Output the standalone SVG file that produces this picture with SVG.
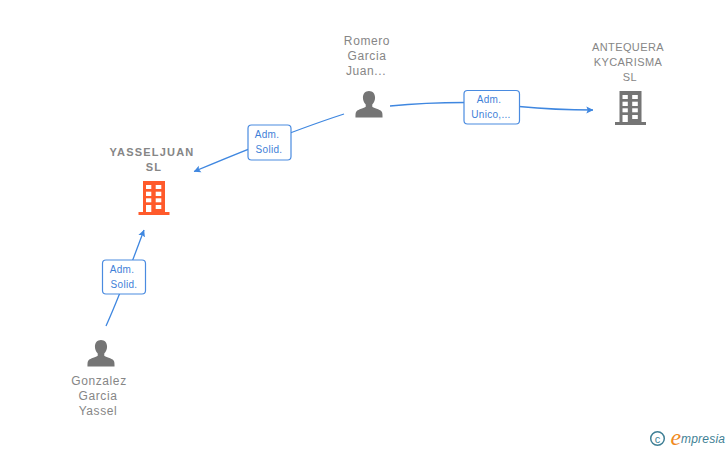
<svg xmlns="http://www.w3.org/2000/svg" width="728" height="450" viewBox="0 0 728 450">
<style>
.lbl{font-family:"Liberation Sans",Arial,sans-serif;font-size:12px;fill:#868686;text-anchor:middle;letter-spacing:.6px}
.cap{font-size:11px;letter-spacing:.4px}
.b{font-weight:bold;font-size:11px;letter-spacing:1.2px}
.edge{fill:none;stroke:#3f87e0;stroke-width:1.3;marker-end:url(#a)}
.line{fill:none;stroke:#3f87e0;stroke-width:1.3}
.box{fill:#fff;stroke:#4a8be0;stroke-width:1.2}
.bt{font-family:"Liberation Sans",Arial,sans-serif;font-size:10px;fill:#3f7fd8;text-anchor:middle;letter-spacing:.3px}
.g{fill:#757575}
.o{fill:#ff5a2b}
.w{fill:#fff}
</style>
<defs>
<marker id="a" viewBox="0 0 10 10" refX="9.500" refY="5" markerWidth="7" markerHeight="10" markerUnits="userSpaceOnUse" orient="auto"><path d="M0 0L10 5L0 10L2 5Z" fill="#3f87e0"/></marker>
<symbol id="person" viewBox="0 0 30 30" overflow="visible">
<path d="M15 1c4 0 6.500 3 6.500 7 0 3-1 5.500-3 7.500v2.500c1.500 1.500 8 2.500 10 5 1 1.500 1 3 1 6.500H.5c0-3.500 0-5 1-6.500 2-2.500 8.500-3.500 10-5v-2.500c-2-2-3-4.500-3-7.500 0-4 2.500-7 6.500-7z"/>
</symbol>
<g id="bld">
<path d="M-11 -17h22v31h4.500v3H-15.500v-3h4.500z"/>
<g class="w"><rect x="-8" y="-13" width="5.300" height="4"/><rect x="1.700" y="-13" width="5.600" height="4"/><rect x="-8" y="-6.300" width="5.300" height="4.300"/><rect x="1.700" y="-6.300" width="5.600" height="4.300"/><rect x="-8" y=".3" width="5.300" height="4"/><rect x="1.700" y=".3" width="5.600" height="4"/><rect x="-8" y="7" width="5.300" height="7"/><rect x="1.700" y="7" width="5.600" height="4"/></g>
</g>
</defs>
<g id="connectors">
<path class="edge" d="M344 114C310 125 250 148 194 171.500"/>
<path class="line" d="M390 106C420 103 445 102.500 465 102.500"/>
<path class="edge" d="M519 106.500C545 109 570 110 593 110"/>
<path class="edge" d="M106 326C120 295 132 262 144 230"/>
</g>
<g id="edge-label-1"><rect class="box" x="248" y="125" width="43" height="35" rx="3.500"/><text class="bt" x="267" y="138">Adm.</text><text class="bt" x="269" y="153">Solid.</text></g>
<g id="edge-label-2"><rect class="box" x="464" y="90.500" width="55.500" height="33.500" rx="3.500"/><text class="bt" x="489" y="103">Adm.</text><text class="bt" x="491" y="118">Unico,...</text></g>
<g id="edge-label-3"><rect class="box" x="102.500" y="260" width="43" height="34" rx="3.500"/><text class="bt" x="122" y="273">Adm.</text><text class="bt" x="124" y="288">Solid.</text></g>
<g id="node-yasseljuan">
<text class="lbl b" x="152" y="156">YASSELJUAN</text><text class="lbl b" x="154" y="171">SL</text>
<use href="#bld" class="o" x="154" y="198"/>
</g>
<g id="node-romero">
<text class="lbl" x="367" y="45">Romero</text><text class="lbl" x="367" y="60">Garcia</text><text class="lbl" x="366" y="75">Juan...</text>
<use href="#person" class="g" x="355" y="90" width="28" height="28"/>
</g>
<g id="node-antequera">
<text class="lbl cap" x="628" y="51">ANTEQUERA</text><text class="lbl cap" x="628" y="66">KYCARISMA</text><text class="lbl cap" x="630" y="81">SL</text>
<use href="#bld" class="g" x="630.500" y="108"/>
</g>
<g id="node-gonzalez">
<use href="#person" class="g" x="87" y="339" width="28" height="28"/>
<text class="lbl" x="99" y="385">Gonzalez</text><text class="lbl" x="98" y="400">Garcia</text><text class="lbl" x="98" y="415">Yassel</text>
</g>
<g id="logo">
<circle cx="657.500" cy="438.500" r="6.800" fill="none" stroke="#3f7f95" stroke-width="1.500"/>
<text x="657.500" y="442.500" font-family="Liberation Sans,Arial,sans-serif" font-size="11" fill="#3f7f95" text-anchor="middle">c</text>
<text x="670.500" y="445" font-family="Liberation Serif,serif" font-style="italic" font-size="24" fill="#f08a1d">e</text>
<text x="681" y="443" font-family="Liberation Sans,sans-serif" font-style="italic" font-size="12" fill="#3f7f95" textLength="44">mpresia</text>
</g>
</svg>
